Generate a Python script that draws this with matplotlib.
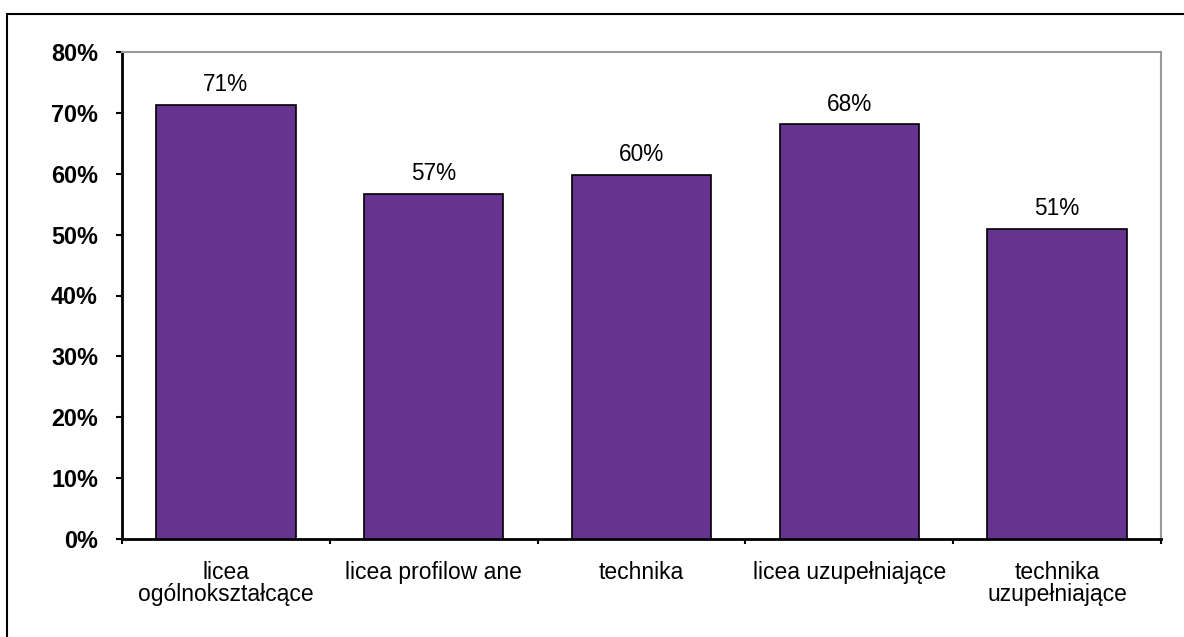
import matplotlib
matplotlib.use("Agg")
import matplotlib.pyplot as plt
from matplotlib.patches import Rectangle
from matplotlib.ticker import FixedLocator, NullFormatter

categories = ["licea\nogólnokształcące", "licea profilow ane", "technika",
              "licea uzupełniające", "technika\nuzupełniające"]
values = [71.3, 56.7, 59.8, 68.1, 51.0]
labels = ["71%", "57%", "60%", "68%", "51%"]
yticks = [0, 10, 20, 30, 40, 50, 60, 70, 80]
ytick_labels = ["0%", "10%", "20%", "30%", "40%", "50%", "60%", "70%", "80%"]

plt.rcParams['font.family'] = ['Liberation Sans', 'DejaVu Sans']

W, H = 1184, 637
fig = plt.figure(figsize=(W / 100, H / 100), dpi=100)

# outer frame (extends past right and bottom edges)
fig.patches.append(Rectangle((7 / W, -0.05), 1.2, 1 - 14 / H + 0.05,
                             transform=fig.transFigure, fill=False,
                             edgecolor="black", linewidth=1.5))

left, right, top, bottom = 122, 1161, 52, 539
ax = fig.add_axes([left / W, 1 - bottom / H, (right - left) / W, (bottom - top) / H])

x = list(range(len(categories)))
ax.bar(x, values, width=0.67, color="#673390", edgecolor="black", linewidth=1.2, zorder=3)
for xi, v, lab in zip(x, values, labels):
    ax.annotate(lab, (xi, v), xytext=(0, 10), textcoords="offset points",
                ha="center", va="baseline", fontsize=16.3)

ax.set_xlim(-0.5, len(categories) - 0.5)
ax.set_ylim(0, 80)
ax.set_yticks(yticks)
ax.set_yticklabels(ytick_labels, fontsize=16.8, fontweight="bold")
ax.set_xticks(x)
ax.set_xticklabels(categories, fontsize=16.5, linespacing=0.95)
ax.tick_params(axis="x", length=0, pad=16)
ax.xaxis.set_minor_locator(FixedLocator([i - 0.5 for i in range(len(categories) + 1)]))
ax.xaxis.set_minor_formatter(NullFormatter())
ax.tick_params(axis="x", which="minor", length=3.8, width=1.5, direction="out")
ax.tick_params(axis="y", length=4.3, width=1.5, direction="out", pad=13)

for s in ["left", "bottom"]:
    ax.spines[s].set_color("black")
    ax.spines[s].set_linewidth(2)
for s in ["top", "right"]:
    ax.spines[s].set_color("#999999")
    ax.spines[s].set_linewidth(1.5)

fig.savefig("out.png", dpi=100)
